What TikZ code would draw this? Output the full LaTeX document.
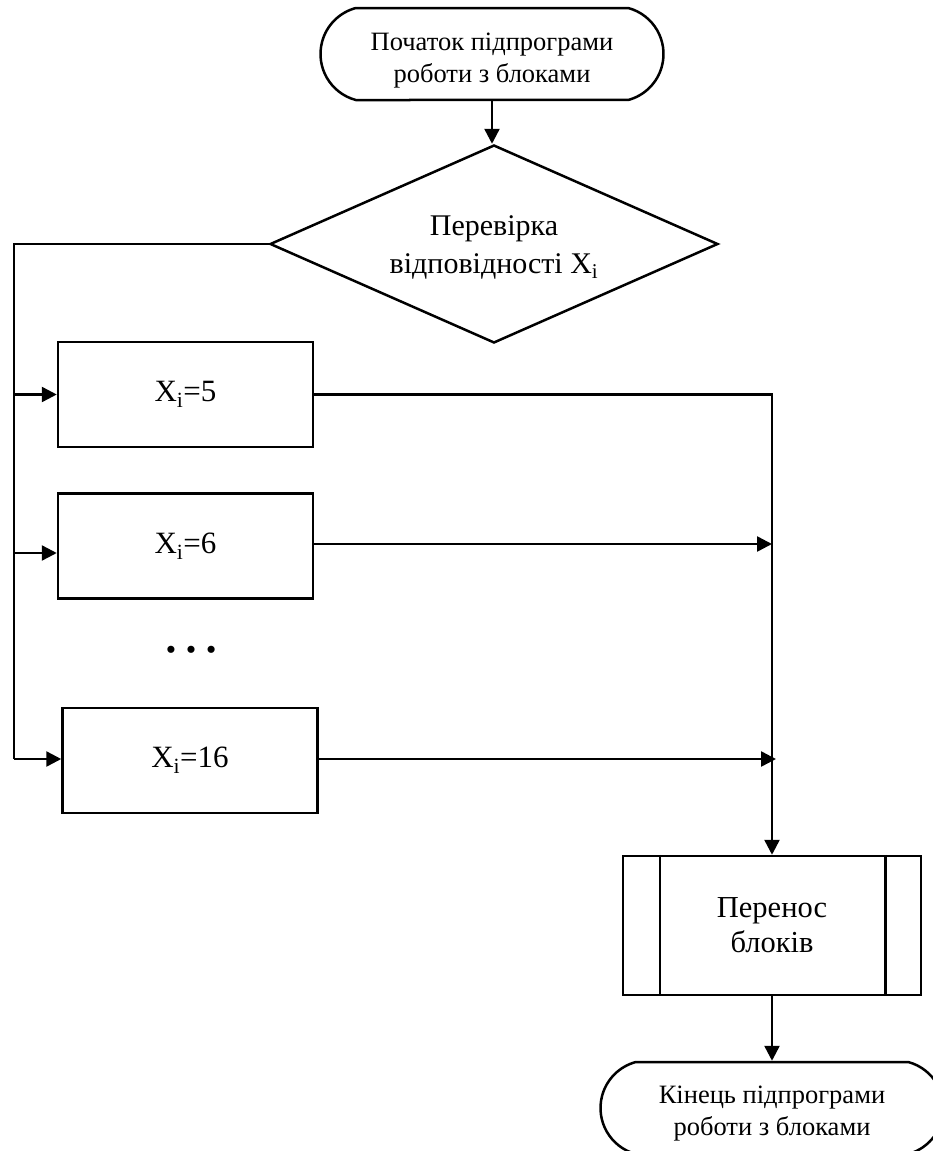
\documentclass[tikz,border=0pt]{standalone}
\usepackage{fontspec}
\setmainfont{Liberation Serif}
\usetikzlibrary{arrows.meta,shapes.geometric,shapes.misc}

% two centred lines, moved down inside their node without changing its size
\newcommand\lowered[2]{\raisebox{#1}[\height][\depth]{\begin{tabular}{@{}c@{}}#2\end{tabular}}}

\begin{document}
\begin{tikzpicture}[x=1pt,y=-1pt,line width=2.5pt,
  terminal/.style={rounded rectangle,rounded rectangle arc length=150,draw,
    minimum width=343pt,minimum height=92pt,inner sep=0pt,
    font=\fontsize{26.5}{31.5}\selectfont},
  decision/.style={diamond,draw,minimum width=448pt,minimum height=198pt,aspect=2.26,
    inner sep=0pt,font=\fontsize{30}{38}\selectfont},
  casebox/.style={draw,minimum width=255pt,minimum height=105pt,inner sep=0pt,
    font=\fontsize{31}{34}\selectfont},
  procbox/.style={draw,minimum width=298pt,minimum height=139pt,inner sep=0pt,align=center,
    font=\fontsize{30.5}{35}\selectfont},
  arr/.style={-{Triangle[length=15pt,width=15pt]}},
]
\useasboundingbox (0,0) rectangle (933,1151);
\begin{scope}
\clip (0,0) rectangle (933,1151);

% start / end terminators
\node[terminal] (start) at (492,54) {\lowered{-6pt}{Початок підпрограми\\роботи з блоками}};
\node[terminal] (stop) at (772,1108) {\lowered{-5pt}{Кінець підпрограми\\роботи з блоками}};

% decision
\node[decision] (chk) at (494,244) {\lowered{-3pt}{Перевірка\\відповідності X\textsubscript{i}}};

% case boxes
\node[casebox] (b1) at (185.5,394.5) {X\textsubscript{i}=5};
\node[casebox] (b2) at (185.5,546) {X\textsubscript{i}=6};
\node[casebox] (b3) at (190,760.5) {X\textsubscript{i}=16};
\node[font=\fontsize{60}{60}\selectfont] (dots) at (191,650) {…};

% predefined process
\node[procbox] (pp) at (772,925.5) {Перенос\\блоків};
\draw ([xshift=38pt]pp.north west) -- ([xshift=38pt]pp.south west);
\draw ([xshift=-37pt]pp.north east) -- ([xshift=-37pt]pp.south east);

% connectors
\coordinate (lx) at (14,0);
\coordinate (l1) at (14,394.5);
\coordinate (l2) at (14,553);
\coordinate (l3) at (14,759);
\coordinate (r1) at (772,394.5);
\coordinate (r2) at (772,544);
\coordinate (r3) at (776,759);

\draw[arr] (start.south) -- (start.south |- chk.north);
\draw (chk.west) -- (chk.west -| lx) -- (l3);
\draw[arr] (l3) -- (l3 -| b3.west);
\draw[arr] (l1) -- (b1.west);
\draw[arr] (l2) -- (l2 -| b2.west);

\draw[arr] (b1.east) -- (r1) -- (pp.north);
\draw[arr] (r2 -| b2.east) -- (r2);
\draw[arr] (r3 -| b3.east) -- (r3);
\draw[arr] (pp.south) -- (stop.north);
\end{scope}
\end{tikzpicture}
\end{document}
